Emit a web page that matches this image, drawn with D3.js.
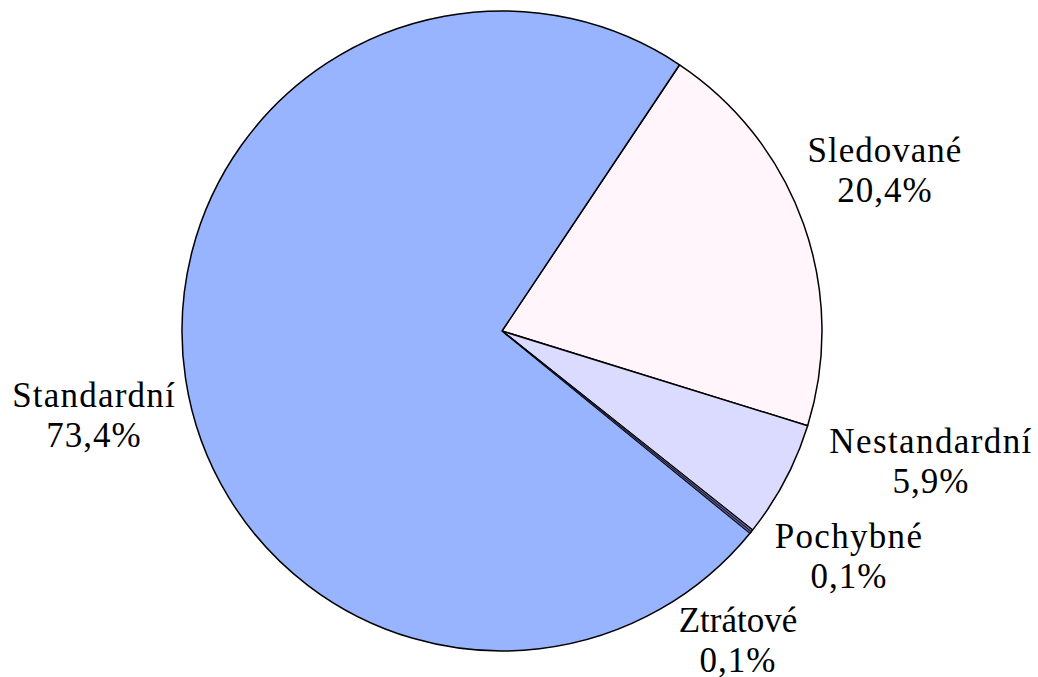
<!DOCTYPE html>
<html><head><meta charset="utf-8">
<script src="https://cdn.jsdelivr.net/npm/d3@7"></script>
<style>html,body{margin:0;padding:0;background:#fff;}svg{display:block;}</style>
</head><body>
<script>
const categories = ["Sledované", "Nestandardní", "Pochybné", "Ztrátové", "Standardní"];
const values = [20.4, 5.9, 0.1, 0.1, 73.4];
const valueLabels = ["20,4%", "5,9%", "0,1%", "0,1%", "73,4%"];
const colors = ["#FFF5FA", "#DADBFF", "#666699", "#5C5C96", "#99B4FF"];

const W = 1038, H = 677;
const cx = 502, cy = 331, R = 320;
// label anchor positions (center x, first-line baseline y)
const labelPos = [[885, 162], [931, 453], [849, 548], [738, 632], [94, 407]];
const lineGap = 40;
const spacing = [1.0, 1.4, 1.3, 0, 1.2];

const svg = d3.select("body").append("svg").attr("width", W).attr("height", H);
const data = categories.map((c, i) => ({cat: c, value: values[i], label: valueLabels[i], color: colors[i], i}));
const startA = 33.7 * Math.PI / 180;
const pie = d3.pie().value(d => d.value).sort(null).startAngle(startA).endAngle(startA + 2 * Math.PI);
const arc = d3.arc().innerRadius(0).outerRadius(R);
const g = svg.append("g").attr("transform", `translate(${cx},${cy})`);
const arcs = pie(data);
g.selectAll("path").data(arcs).join("path")
  .attr("d", arc).attr("fill", d => d.data.color)
  .attr("stroke", "#000").attr("stroke-width", 1.5).attr("stroke-linejoin", "round");
// redraw thin slices' fill on top so their colour stays visible
g.selectAll("path.thin").data(arcs.filter(d => d.data.value < 1)).join("path").attr("class", "thin")
  .attr("d", d3.arc().innerRadius(0).outerRadius(R - 0.5)).attr("fill", d => d.data.color)
  .attr("stroke", "#000").attr("stroke-width", 0.6);

const t = svg.selectAll("text.lab").data(data).join("text").attr("class", "lab")
  .attr("font-family", "Liberation Serif")
  .attr("font-size", 35).attr("text-anchor", "middle").attr("fill", "#000");
t.append("tspan").attr("x", d => labelPos[d.i][0]).attr("y", d => labelPos[d.i][1])
  .attr("letter-spacing", d => spacing[d.i]).text(d => d.cat);
t.append("tspan").attr("x", d => labelPos[d.i][0]).attr("y", d => labelPos[d.i][1] + lineGap)
  .attr("letter-spacing", 1).text(d => d.label);
</script>
</body></html>
